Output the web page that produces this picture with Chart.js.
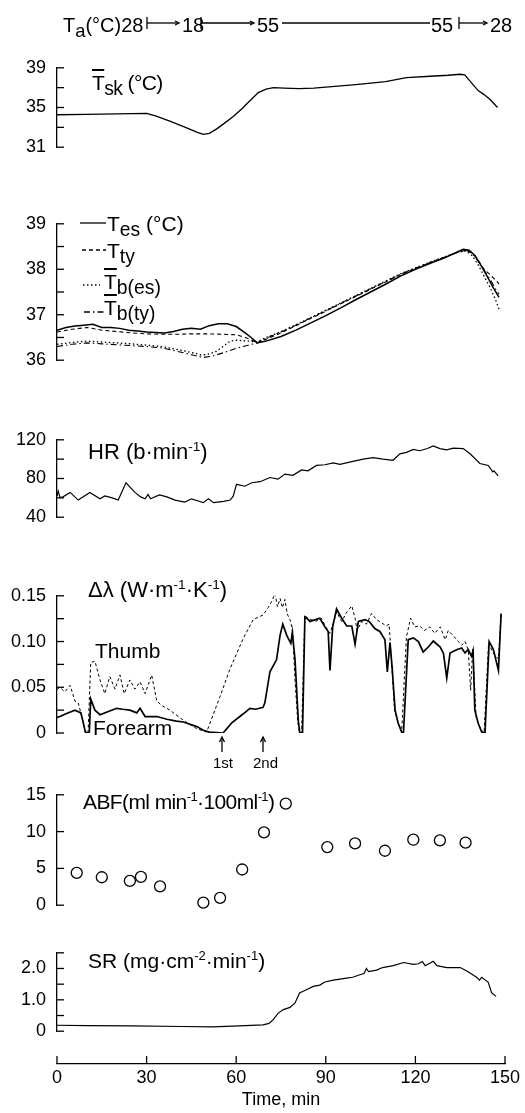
<!DOCTYPE html>
<html>
<head>
<meta charset="utf-8">
<script src="https://cdn.jsdelivr.net/npm/chart.js@4.4.0/dist/chart.umd.min.js"></script>
<style>
  body { margin: 0; background: #fff; }
  #fig { position: relative; width: 525px; height: 1113px; overflow: hidden;
         font-family: "Liberation Sans", "DejaVu Sans", Arial, sans-serif; color: #000; }
  #fig canvas { position: absolute; left: 0; }
  .t { position: absolute; font-size: 21px; line-height: 21px; white-space: nowrap; }
  .t sup { font-size: 0.62em; line-height: 0; vertical-align: 0.6em; }
  .t sub { font-size: 0.92em; line-height: 0; vertical-align: -0.28em; }
  .ob { text-decoration: overline; text-decoration-thickness: 1.5px; }
  .hd { font-size: 20px; line-height: 20px; }
  .sm { font-size: 15px; line-height: 15px; }
  .wide { font-size: 22px; }
  .tight { letter-spacing: -0.6px; }
  #ov { position: absolute; left: 0; top: 0; }
</style>
</head>
<body>
<div id="fig">
  <canvas id="cTsk" width="525" height="123" style="top:46px"></canvas>
  <canvas id="cTemp" width="525" height="180" style="top:202px"></canvas>
  <canvas id="cHr" width="525" height="121" style="top:418px"></canvas>
  <canvas id="cDl" width="525" height="194" style="top:574px"></canvas>
  <canvas id="cAbf" width="525" height="154" style="top:773px"></canvas>
  <canvas id="cSr" width="525" height="122" style="top:931px"></canvas>
  <canvas id="cAxis" width="525" height="73" style="top:1040px"></canvas>

  <svg id="ov" width="525" height="1113" fill="none" stroke="#000" stroke-width="1.3">
    <!-- Ta header -->
    <line x1="147" y1="17" x2="147" y2="29"/><line x1="147" y1="23" x2="178" y2="23"/>
    <polyline points="175,21 179,23 175,25"/>
    <line x1="201" y1="17" x2="201" y2="29"/><line x1="201" y1="23" x2="253" y2="23"/>
    <polyline points="250,21 254,23 250,25"/>
    <line x1="282" y1="23" x2="430" y2="23"/>
    <line x1="459" y1="17" x2="459" y2="29"/><line x1="459" y1="23" x2="486" y2="23"/>
    <polyline points="483,21 487,23 483,25"/>
    <!-- legend samples -->
    <line x1="80" y1="223" x2="106" y2="223"/>
    <line x1="82" y1="250" x2="106" y2="250" stroke-dasharray="4 3"/>
    <line x1="83" y1="285" x2="100" y2="285" stroke-dasharray="1.5 2.5"/>
    <line x1="84" y1="312" x2="106" y2="312" stroke-dasharray="6 3 1.5 3"/>
    <!-- 1st / 2nd arrows -->
    <line x1="222" y1="752" x2="222" y2="738"/><polyline points="219.5,742 222,737 224.5,742"/>
    <line x1="263" y1="752" x2="263" y2="738"/><polyline points="260.5,742 263,737 265.5,742"/>
  </svg>

  <div class="t hd" style="left:63px;top:15px">T<sub>a</sub>(°C)28</div>
  <div class="t hd" style="left:182px;top:15px">18</div>
  <div class="t hd" style="left:257px;top:15px">55</div>
  <div class="t hd" style="left:431px;top:15px">55</div>
  <div class="t hd" style="left:490px;top:15px">28</div>

  <div class="t tight" style="left:92px;top:72px"><span class="ob">T</span><sub>sk</sub> (°C)</div>

  <div class="t" style="left:107px;top:213px">T<sub>es</sub> (°C)</div>
  <div class="t" style="left:107px;top:240px">T<sub>ty</sub></div>
  <div class="t" style="left:104px;top:271px"><span class="ob">T</span><sub>b(es)</sub></div>
  <div class="t" style="left:104px;top:297px"><span class="ob">T</span><sub>b(ty)</sub></div>

  <div class="t wide" style="left:88px;top:441px">HR (b·min<sup>-1</sup>)</div>

  <div class="t wide" style="left:88px;top:579px">Δλ (W·m<sup>-1</sup>·K<sup>-1</sup>)</div>
  <div class="t" style="left:95px;top:640px">Thumb</div>
  <div class="t" style="left:93px;top:717px">Forearm</div>
  <div class="t sm" style="left:213px;top:755px">1st</div>
  <div class="t sm" style="left:253px;top:755px">2nd</div>

  <div class="t tight" style="left:83px;top:791px">ABF(ml min<sup>-1</sup>·100ml<sup>-1</sup>)</div>

  <div class="t" style="left:88px;top:950px">SR (mg·cm<sup>-2</sup>·min<sup>-1</sup>)</div>
</div>

<script>
const FONT = '"Liberation Sans", "DejaVu Sans", Arial, sans-serif';

// mean skin temperature
const tskTime = [0, 10, 20, 30, 33, 38, 43, 47, 49, 51, 53.5, 56, 59, 62, 64, 67.4, 70, 72.5, 76, 81, 86, 92, 100, 110, 117, 125, 131, 135, 136.5, 139, 141, 143, 145, 147.5];
const tskVals = [34.27, 34.3, 34.35, 34.4, 34.15, 33.6, 33.0, 32.5, 32.3, 32.4, 32.85, 33.4, 34.1, 34.9, 35.5, 36.5, 36.85, 37.0, 36.95, 36.9, 36.95, 37.1, 37.3, 37.6, 38.0, 38.15, 38.25, 38.35, 38.3, 37.4, 36.7, 36.3, 35.8, 35.0];
const tskTicks = [31, 35, 39];

// core / body temperatures
const tesTime = [0, 3, 6, 9, 12, 15, 18, 21, 24, 27, 30, 33, 36, 39, 42, 45, 48, 51, 54, 57, 60, 63, 65, 67, 70, 75, 80, 85, 90, 95, 100, 105, 110, 115, 120, 125, 130, 134, 136, 138, 140, 142, 144, 146, 148];
const tesVals = [36.66, 36.72, 36.75, 36.77, 36.79, 36.72, 36.72, 36.7, 36.66, 36.64, 36.62, 36.61, 36.6, 36.63, 36.68, 36.7, 36.68, 36.76, 36.8, 36.8, 36.74, 36.6, 36.5, 36.38, 36.42, 36.52, 36.66, 36.82, 36.98, 37.15, 37.33, 37.5, 37.67, 37.85, 38.0, 38.13, 38.26, 38.38, 38.44, 38.42, 38.3, 38.08, 37.85, 37.6, 37.38];
const ttyTime = [0, 5, 10, 15, 20, 25, 30, 35, 40, 45, 50, 55, 60, 63, 65, 67, 70, 75, 80, 85, 90, 95, 100, 105, 110, 115, 120, 125, 130, 134, 137, 139, 141, 143, 145, 147, 148];
const ttyVals = [36.62, 36.68, 36.72, 36.66, 36.63, 36.6, 36.58, 36.57, 36.57, 36.58, 36.58, 36.57, 36.56, 36.5, 36.45, 36.38, 36.46, 36.6, 36.76, 36.92, 37.08, 37.24, 37.4, 37.56, 37.72, 37.88, 38.02, 38.15, 38.27, 38.37, 38.42, 38.36, 38.2, 38.0, 37.88, 37.75, 37.68];
const tbesTime = [0, 5, 10, 15, 20, 25, 30, 35, 40, 45, 48, 50, 53, 56, 58, 60, 64, 67, 70, 75, 80, 85, 90, 95, 100, 105, 110, 115, 120, 125, 130, 134, 137, 139, 141, 143, 145, 147, 148];
const tbesVals = [36.35, 36.39, 36.42, 36.4, 36.38, 36.36, 36.33, 36.3, 36.24, 36.17, 36.12, 36.12, 36.18, 36.32, 36.42, 36.44, 36.42, 36.4, 36.5, 36.63, 36.78, 36.94, 37.1, 37.26, 37.42, 37.58, 37.74, 37.9, 38.03, 38.16, 38.28, 38.37, 38.4, 38.3, 38.1, 37.85, 37.6, 37.3, 37.12];
const tbtyTime = [0, 5, 10, 15, 20, 25, 30, 35, 40, 45, 49, 52, 56, 60, 64, 67, 70, 75, 80, 85, 90, 95, 100, 105, 110, 115, 120, 125, 130, 134, 137, 139, 141, 143, 145, 147, 148];
const tbtyVals = [36.3, 36.35, 36.38, 36.36, 36.34, 36.32, 36.3, 36.27, 36.2, 36.12, 36.06, 36.09, 36.17, 36.26, 36.33, 36.38, 36.48, 36.62, 36.77, 36.93, 37.09, 37.25, 37.41, 37.57, 37.73, 37.89, 38.02, 38.15, 38.27, 38.37, 38.42, 38.35, 38.18, 37.98, 37.78, 37.55, 37.45];
const tempTicks = [36, 37, 38, 39];

// heart rate
const hrTime = [0, 0.4, 1, 2, 4.4, 7.1, 11, 14.4, 16, 18.5, 20.5, 23.1, 26.1, 28, 29.5, 30.5, 31.3, 34.3, 36.8, 39.5, 42.8, 45, 47, 49, 50.7, 52.4, 55.8, 58, 59, 60.1, 62.9, 65.2, 68, 71.3, 74, 76.3, 79, 81.9, 84, 86.9, 89.7, 92.5, 94.7, 98, 102.5, 105.8, 109.2, 112.5, 114.8, 117, 119.3, 121.5, 124, 126, 128.2, 130.5, 132.7, 136, 138.3, 141.6, 144.4, 145.9, 146.3, 147.7];
const hrVals = [62, 66.9, 60.3, 61, 65.6, 57.7, 65.6, 59, 62, 60, 57.7, 75.6, 65.6, 61, 59, 63.5, 59, 63, 61, 57.7, 55.6, 59, 57, 55, 59, 55, 56.3, 57.7, 61.7, 74, 72, 75.6, 76.7, 81, 79.3, 84.6, 83.3, 88.9, 88, 93.5, 94.2, 96.1, 94.7, 96.9, 100, 101.5, 100, 98.8, 105.5, 107, 110, 108.7, 111, 113.6, 110.9, 109.6, 111.4, 110.9, 105.5, 95.5, 93.5, 86.9, 88, 82.6];
const hrTicks = [40, 80, 120];

// thermal conductivity change
const forearmTime = [0, 1, 3, 6, 8, 8.8, 9.5, 10.8, 11.3, 12.7, 14.4, 17.2, 20, 22, 24.4, 26.7, 27.8, 29.5, 33.4, 36.8, 40, 42.3, 46.8, 49, 51, 55.6, 58.5, 62.4, 64.6, 66.5, 69, 69.6, 71.3, 73.5, 74.7, 75.6, 76.9, 77.5, 78.3, 78.8, 79.7, 80.8, 81.3, 82.2, 83, 83.6, 84.7, 88, 89.7, 90.8, 91.4, 92.3, 93.6, 95.3, 97, 98.7, 99.8, 100.9, 103.1, 104.5, 106.5, 108.1, 109.8, 110.6, 111.5, 112.2, 113.2, 114.2, 115.4, 116, 117.6, 119.3, 121, 122.6, 124.3, 126, 128.3, 129.4, 130.5, 131.6, 133.8, 135.5, 136.6, 137.7, 138.8, 139.3, 139.9, 141, 142.2, 143.3, 144.7, 146.1, 147.8, 148.7];
const forearmVals = [0.017, 0.018, 0.021, 0.025, 0.022, 0.011, 0.001, 0, 0.037, 0.025, 0.02, 0.0235, 0.027, 0.026, 0.025, 0.022, 0.027, 0.018, 0.018, 0.015, 0.013, 0.012, 0.007, 0.003, 0.001, 0, 0.011, 0.021, 0.027, 0.026, 0.028, 0.033, 0.067, 0.08, 0.107, 0.119, 0.107, 0.103, 0.098, 0.11, 0.08, 0.013, 0, 0, 0.127, 0.1255, 0.122, 0.1255, 0.116, 0.111, 0.0685, 0.116, 0.1356, 0.1255, 0.117, 0.117, 0.097, 0.122, 0.124, 0.122, 0.114, 0.111, 0.102, 0.0668, 0.099, 0.072, 0.025, 0.011, 0.001, 0, 0.102, 0.104, 0.1, 0.0886, 0.094, 0.1005, 0.094, 0.087, 0.06, 0.0875, 0.091, 0.093, 0.0875, 0.091, 0.084, 0.09, 0.025, 0.011, 0.001, 0, 0.1, 0.0915, 0.0685, 0.1306];
const thumbTime = [0, 1, 2.6, 4.4, 6, 7.1, 8.3, 9.5, 10.4, 11.3, 12.7, 14.4, 16, 17.7, 19.4, 21.1, 22.5, 24.4, 26.1, 27.8, 29.5, 31.7, 33.4, 35.1, 37.8, 40.6, 43.5, 46.8, 50.1, 54.6, 57.9, 62.4, 65.7, 69, 70.7, 71.9, 73, 73.8, 74.7, 75.5, 76.3, 77.1, 78, 78.9, 79.7, 80.6, 81.2, 81.9, 83, 83.9, 86.5, 88.5, 90, 91.4, 92.5, 93.6, 95.3, 97, 98.7, 99.8, 100.5, 102, 103.6, 105.3, 107, 108.5, 110.2, 111.2, 112, 113, 114.3, 115.4, 117, 118.4, 119.8, 121.5, 123, 124.8, 126.5, 128.3, 130, 131, 132.5, 134.4, 135.5, 136.6, 137.7, 138.5, 139.2, 140.3, 141.7, 143, 144.5, 146, 147.8, 148.7];
const thumbVals = [0.048, 0.05, 0.045, 0.052, 0.035, 0.033, 0.018, 0.001, 0, 0.077, 0.0785, 0.058, 0.043, 0.0617, 0.048, 0.0634, 0.043, 0.058, 0.048, 0.056, 0.043, 0.0634, 0.035, 0.03, 0.025, 0.018, 0.0114, 0.0047, 0.001, 0.04, 0.07, 0.1037, 0.124, 0.129, 0.137, 0.144, 0.1524, 0.138, 0.147, 0.137, 0.146, 0.13, 0.124, 0.112, 0.057, 0.0134, 0, 0, 0.129, 0.1255, 0.122, 0.1255, 0.116, 0.109, 0.12, 0.1323, 0.122, 0.132, 0.139, 0.1255, 0.112, 0.122, 0.119, 0.1306, 0.124, 0.121, 0.117, 0.119, 0.079, 0.025, 0.011, 0.001, 0.105, 0.1255, 0.116, 0.117, 0.112, 0.116, 0.109, 0.116, 0.102, 0.112, 0.107, 0.1, 0.096, 0.1, 0.091, 0.0466, 0.093, 0.018, 0.0047, 0, 0.0985, 0.0875, 0.081, 0.13];
const starTimes = [9.4, 81.4, 114.3, 141.6];
const starLevel = -0.012;
const dlTickVals = [0, 0.05, 0.10, 0.15];
const dlTickText = ['0', '0.05', '0.10', '0.15'];

// arm blood flow
const abfTime = [6.6, 15, 24.4, 28.1, 34.5, 49, 54.6, 62, 69.3, 76.6, 90.5, 99.8, 109.8, 119.3, 128.2, 136.8];
const abfVals = [4.4, 3.8, 3.3, 3.85, 2.55, 0.35, 1.0, 4.85, 9.9, 13.8, 7.9, 8.4, 7.4, 8.9, 8.8, 8.5];
const abfTicks = [0, 5, 10, 15];

// sweat rate
const srTime = [0, 10, 25, 42, 52, 61, 69, 71, 72.4, 74, 75.8, 78, 79.7, 81.2, 83, 85.8, 88, 89.7, 92.5, 97, 99, 101.4, 102.8, 103.6, 104.3, 107, 109, 112.6, 116, 119.3, 121, 122.3, 123.3, 126, 127.2, 130.5, 135, 137.2, 140.5, 141.5, 142.2, 144.4, 145.5, 147];
const srVals = [0.19, 0.18, 0.17, 0.15, 0.14, 0.17, 0.2, 0.25, 0.37, 0.57, 0.69, 0.76, 0.9, 1.22, 1.3, 1.43, 1.47, 1.57, 1.63, 1.69, 1.72, 1.8, 1.84, 2.0, 1.9, 1.95, 2.03, 2.09, 2.19, 2.13, 2.15, 2.22, 2.09, 2.23, 2.09, 2.03, 2.03, 1.92, 1.72, 1.63, 1.72, 1.56, 1.23, 1.11];
const srTickVals = [0, 1, 2];
const srTickText = ['0', '1.0', '2.0'];

const timeTicks = [0, 30, 60, 90, 120, 150];

function pts(xs, ys) {
    return xs.map((x, i) => ({ x: x, y: ys[i] }));
}

function tickFmt(vals, texts) {
    return v => {
        const i = vals.findIndex(t => Math.abs(t - v) < 1e-6);
        return i >= 0 ? (texts ? texts[i] : String(vals[i])) : '';
    };
}

// ticks point inward, like the original plot
const inwardTicks = {
    id: 'inwardTicks',
    afterDraw(chart) {
        const ctx = chart.ctx;
        const area = chart.chartArea;
        ctx.save();
        ctx.strokeStyle = '#000';
        ctx.lineWidth = 1.3;
        const ys = chart.scales.y;
        if (ys.options.display) {
            ys.ticks.forEach(t => {
                const py = ys.getPixelForValue(t.value);
                ctx.beginPath();
                ctx.moveTo(area.left, py);
                ctx.lineTo(area.left + 7, py);
                ctx.stroke();
            });
        }
        const xs = chart.scales.x;
        if (xs.options.display) {
            xs.ticks.forEach(t => {
                const px = xs.getPixelForValue(t.value);
                ctx.beginPath();
                ctx.moveTo(px, area.bottom);
                ctx.lineTo(px, area.bottom - 8);
                ctx.stroke();
            });
        }
        ctx.restore();
    }
};

function line(data, width, dash) {
    return {
        data: data,
        borderColor: '#000',
        borderWidth: width,
        borderDash: dash || [],
        pointRadius: 0,
        fill: false,
        tension: 0
    };
}

function panel(id, y, datasets, padBottom) {
    return new Chart(document.getElementById(id), {
        type: 'line',
        data: { datasets: datasets },
        options: {
            responsive: false,
            animation: false,
            devicePixelRatio: 1,
            layout: { padding: { top: 10, bottom: padBottom || 10, left: 0, right: 20 } },
            plugins: { legend: { display: false }, tooltip: { enabled: false } },
            scales: {
                x: { type: 'linear', min: 0, max: 150, display: false },
                y: {
                    min: y.min,
                    max: y.max,
                    border: { display: true, color: '#000', width: 1.3 },
                    grid: { display: false, drawTicks: false },
                    ticks: {
                        stepSize: y.step,
                        autoSkip: false,
                        padding: 11,
                        color: '#000',
                        font: { family: FONT, size: 18 },
                        callback: y.fmt
                    },
                    afterFit: s => { s.width = 57; }
                }
            }
        },
        plugins: [inwardTicks]
    });
}

panel('cTsk', { min: 31, max: 39, step: 2, fmt: tickFmt(tskTicks) }, [
    line(pts(tskTime, tskVals), 1.3)
]);

panel('cTemp', { min: 36, max: 39, step: 0.5, fmt: tickFmt(tempTicks) }, [
    line(pts(tesTime, tesVals), 1.5),
    line(pts(ttyTime, ttyVals), 1.1, [4, 3]),
    line(pts(tbesTime, tbesVals), 1.3, [1.5, 2.5]),
    line(pts(tbtyTime, tbtyVals), 1.1, [6, 3, 1.5, 3])
]);

panel('cHr', { min: 40, max: 120, step: 20, fmt: tickFmt(hrTicks) }, [
    line(pts(hrTime, hrVals), 1.2)
]);

panel('cDl', { min: 0, max: 0.15, step: 0.025, fmt: tickFmt(dlTickVals, dlTickText) }, [
    line(pts(thumbTime, thumbVals), 1, [3, 2.5]),
    line(pts(forearmTime, forearmVals), 1.7),
    {
        data: starTimes.map(t => ({ x: t, y: starLevel })),
        showLine: false,
        pointStyle: 'star',
        pointRadius: 6,
        borderColor: '#000',
        borderWidth: 1.4,
        clip: false
    }
], 35);

panel('cAbf', { min: 0, max: 15, step: 5, fmt: tickFmt(abfTicks) }, [
    {
        data: pts(abfTime, abfVals),
        showLine: false,
        pointStyle: 'circle',
        pointRadius: 5.5,
        borderColor: '#000',
        backgroundColor: '#fff',
        borderWidth: 1.3,
        clip: false
    }
]);

panel('cSr', { min: 0, max: 2.5, step: 0.5, fmt: tickFmt(srTickVals, srTickText) }, [
    line(pts(srTime, srVals), 1.2)
]);

// shared time axis at the bottom
new Chart(document.getElementById('cAxis'), {
    type: 'line',
    data: { datasets: [] },
    options: {
        responsive: false,
        animation: false,
        devicePixelRatio: 1,
        layout: { padding: { top: 14, bottom: 0, left: 57, right: 20 } },
        plugins: { legend: { display: false }, tooltip: { enabled: false } },
        scales: {
            x: {
                type: 'linear',
                min: 0,
                max: 150,
                border: { display: true, color: '#000', width: 1.3 },
                grid: { display: false, drawTicks: false },
                ticks: {
                    stepSize: 30,
                    autoSkip: false,
                    maxRotation: 0,
                    padding: 3,
                    color: '#000',
                    font: { family: FONT, size: 18 },
                    callback: tickFmt(timeTicks)
                },
                title: {
                    display: true,
                    text: 'Time, min',
                    color: '#000',
                    font: { family: FONT, size: 18 },
                    padding: { top: 0, bottom: 2 }
                },
                afterFit: s => { s.height = 49; }
            },
            y: { display: false, min: 0, max: 1 }
        }
    },
    plugins: [inwardTicks]
});
</script>
</body>
</html>
